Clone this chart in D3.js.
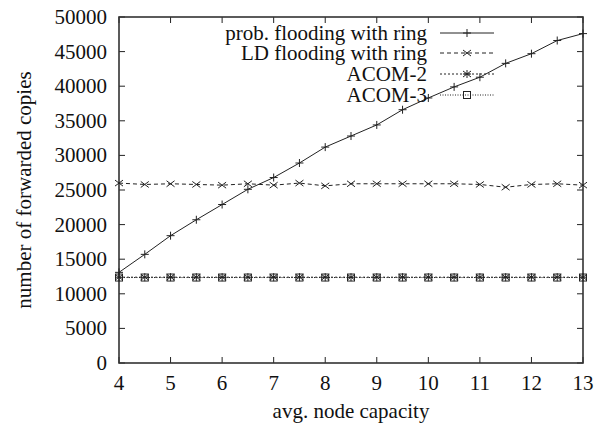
<!DOCTYPE html>
<html>
<head>
<meta charset="utf-8">
<script src="https://cdn.jsdelivr.net/npm/d3@7"></script>
<style>
  body { margin: 0; background: #fff; }
  text { font-family: "Liberation Serif", "DejaVu Serif", serif; fill: #111; }
</style>
</head>
<body>
<div class="main"></div>
<script>
// x values (avg. node capacity)
const capacity = [4, 4.5, 5, 5.5, 6, 6.5, 7, 7.5, 8, 8.5, 9, 9.5, 10, 10.5, 11, 11.5, 12, 12.5, 13];

const probFlooding = [13100, 15700, 18400, 20700, 22900, 25100, 26800, 28900, 31200, 32800, 34400, 36600,
    38300, 39900, 41300, 43300, 44700, 46600, 47600];
const ldFlooding = [26000, 25800, 25900, 25800, 25700, 25900, 25700, 26000, 25600, 25900, 25900, 25900,
    25900, 25900, 25800, 25400, 25800, 25900, 25700];
const acom2 = [12400, 12400, 12400, 12400, 12400, 12400, 12400, 12400, 12400, 12400, 12400, 12400,
    12400, 12400, 12400, 12400, 12400, 12400, 12400];
const acom3 = [12350, 12350, 12350, 12350, 12350, 12350, 12350, 12350, 12350, 12350, 12350, 12350,
    12350, 12350, 12350, 12350, 12350, 12350, 12350];

const seriesNames = ["prob. flooding with ring", "LD flooding with ring", "ACOM-2", "ACOM-3"];
const xTicks = [4, 5, 6, 7, 8, 9, 10, 11, 12, 13];
const yTicks = [0, 5000, 10000, 15000, 20000, 25000, 30000, 35000, 40000, 45000, 50000];

let width = 597;
let height = 424;
let plot = { left: 119, right: 583, top: 17, bottom: 363 };

let svg = d3.select('.main').append("svg")
    .attr("width", width)
    .attr("height", height);

let x = d3.scaleLinear().domain([4, 13]).range([plot.left, plot.right]);
let y = d3.scaleLinear().domain([0, 50000]).range([plot.bottom, plot.top]);

const fontSize = 21;

// ticks (inward, mirrored)
let tickLen = 6;
let g = svg.append("g").attr("stroke", "#222").attr("stroke-width", 1);
xTicks.forEach(t => {
    g.append("line").attr("x1", x(t)).attr("x2", x(t)).attr("y1", plot.bottom).attr("y2", plot.bottom - tickLen);
    g.append("line").attr("x1", x(t)).attr("x2", x(t)).attr("y1", plot.top).attr("y2", plot.top + tickLen);
});
yTicks.forEach(t => {
    g.append("line").attr("x1", plot.left).attr("x2", plot.left + tickLen).attr("y1", y(t)).attr("y2", y(t));
    g.append("line").attr("x1", plot.right).attr("x2", plot.right - tickLen).attr("y1", y(t)).attr("y2", y(t));
});

// frame
svg.append("rect")
    .attr("x", plot.left).attr("y", plot.top)
    .attr("width", plot.right - plot.left).attr("height", plot.bottom - plot.top)
    .attr("fill", "none").attr("stroke", "#333").attr("stroke-width", 1.6);

// tick labels
svg.selectAll(".xlab").data(xTicks).enter().append("text")
    .attr("x", d => x(d)).attr("y", 390)
    .attr("text-anchor", "middle").attr("font-size", fontSize)
    .text(d => d);
svg.selectAll(".ylab").data(yTicks).enter().append("text")
    .attr("x", 107).attr("y", d => y(d) + 7)
    .attr("text-anchor", "end").attr("font-size", fontSize)
    .text(d => d);

// axis titles
svg.append("text")
    .attr("x", (plot.left + plot.right) / 2 + 0).attr("y", 418)
    .attr("text-anchor", "middle").attr("font-size", fontSize)
    .text("avg. node capacity");
svg.append("text")
    .attr("transform", `translate(31,${(plot.top + plot.bottom) / 2}) rotate(-90)`)
    .attr("text-anchor", "middle").attr("font-size", fontSize)
    .text("number of forwarded copies");

// markers
function marker(sel, kind, cx, cy) {
    let s = 4;
    let m = sel.append("g").attr("transform", `translate(${cx},${cy})`)
        .attr("stroke", "#222").attr("stroke-width", 1).attr("fill", "none");
    if (kind === "plus" || kind === "star") {
        m.append("line").attr("x1", -s).attr("x2", s).attr("y1", 0).attr("y2", 0);
        m.append("line").attr("x1", 0).attr("x2", 0).attr("y1", -s).attr("y2", s);
    }
    if (kind === "cross" || kind === "star") {
        m.append("line").attr("x1", -s).attr("x2", s).attr("y1", -s * 0.75).attr("y2", s * 0.75);
        m.append("line").attr("x1", -s).attr("x2", s).attr("y1", s * 0.75).attr("y2", -s * 0.75);
    }
    if (kind === "square") {
        m.append("rect").attr("x", -3.5).attr("y", -3.5).attr("width", 7).attr("height", 7);
    }
}

const seriesData = [probFlooding, ldFlooding, acom2, acom3];
const dashes = [null, "4,3", "2,2", "1,1.5"];
const kinds = ["plus", "cross", "star", "square"];

let line = d3.line().x(d => x(d[0])).y(d => y(d[1]));

seriesData.forEach((vals, i) => {
    let pts = capacity.map((c, j) => [c, vals[j]]);
    svg.append("path")
        .attr("d", line(pts))
        .attr("fill", "none")
        .attr("stroke", "#222")
        .attr("stroke-width", 1)
        .attr("stroke-dasharray", dashes[i]);
    pts.forEach(p => marker(svg, kinds[i], x(p[0]), y(p[1])));
});

// legend
let legendY = [33, 53, 74, 95];
seriesNames.forEach((name, i) => {
    svg.append("text")
        .attr("x", 427).attr("y", legendY[i] + 7)
        .attr("text-anchor", "end").attr("font-size", fontSize)
        .text(name);
    svg.append("line")
        .attr("x1", 440).attr("x2", 494)
        .attr("y1", legendY[i]).attr("y2", legendY[i])
        .attr("stroke", "#222").attr("stroke-width", 1)
        .attr("stroke-dasharray", dashes[i]);
    marker(svg, kinds[i], 467, legendY[i]);
});
</script>
</body>
</html>
